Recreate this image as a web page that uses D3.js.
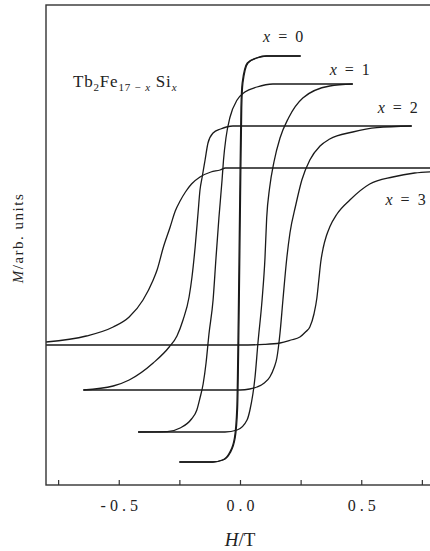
<!DOCTYPE html>
<html lang="en">
<head>
<meta charset="utf-8">
<title>Tb2Fe17-xSix hysteresis loops</title>
<script src="https://cdn.jsdelivr.net/npm/d3@7/dist/d3.min.js"></script>
<style>
    body { margin: 0; background: #fff; }
    svg { display: block; font-family: "Liberation Serif", "DejaVu Serif", serif; }
    .loop { fill: none; stroke: #1a1a1a; stroke-width: 1.3px; }
    .frame { fill: none; stroke: #333; stroke-width: 1.4px; }
    .axis path { display: none; }
    .axis line { stroke: #333; stroke-width: 1.2px; }
    .axis text { font-family: "Liberation Serif", serif; font-size: 16px; letter-spacing: 4px; fill: #222; }
</style>
</head>
<body>
<svg id="chart"></svg>
<script>
    // branches, [H (T), M (arb.)]
    var loop0Up = [[-0.25, -1.02], [-0.111, -1.02], [-0.07, -1.01], [-0.041, -0.975], [-0.02, -0.9],
        [-0.01, -0.75], [-0.004, -0.3], [0.002, 0.3], [0.007, 0.75], [0.012, 0.875], [0.033, 0.975],
        [0.07, 1.0], [0.111, 1.01], [0.25, 1.01]];
    var loop0Down = [[0.25, 1.01], [0.108, 1.01], [0.067, 1.0], [0.03, 0.975], [0.009, 0.875],
        [0.004, 0.75], [-0.001, 0.3], [-0.007, -0.3], [-0.013, -0.75], [-0.023, -0.9], [-0.044, -0.975],
        [-0.073, -1.01], [-0.114, -1.02], [-0.25, -1.02]];

    var loop1Up = [[-0.42, -0.87], [-0.062, -0.87], [-0.012, -0.86], [0.029, -0.81], [0.041, -0.76],
        [0.062, -0.595], [0.074, -0.425], [0.091, -0.21], [0.103, 0], [0.11, 0.2], [0.122, 0.35],
        [0.14, 0.48], [0.165, 0.6], [0.2, 0.7], [0.259, 0.8], [0.37, 0.86], [0.465, 0.87]];
    var loop1Down = [[0.465, 0.87], [0.136, 0.87], [0.07, 0.855], [0.02, 0.83], [-0.012, 0.79],
        [-0.041, 0.705], [-0.058, 0.6], [-0.068, 0.49], [-0.074, 0.39], [-0.087, 0.2], [-0.099, 0],
        [-0.111, -0.21], [-0.128, -0.38], [-0.14, -0.525], [-0.152, -0.63], [-0.165, -0.7],
        [-0.178, -0.76], [-0.2, -0.805], [-0.247, -0.85], [-0.3, -0.868], [-0.42, -0.87]];

    var loop2Up = [[-0.646, -0.66], [0.0, -0.66], [0.04, -0.655], [0.07, -0.645], [0.1, -0.625],
        [0.123, -0.595], [0.14, -0.55], [0.152, -0.5], [0.165, -0.375], [0.177, -0.21], [0.193, 0],
        [0.206, 0.125], [0.23, 0.265], [0.255, 0.39], [0.288, 0.49], [0.33, 0.56], [0.37, 0.595],
        [0.465, 0.63], [0.564, 0.652], [0.708, 0.66]];
    var loop2Down = [[0.708, 0.66], [-0.029, 0.66], [-0.08, 0.645], [-0.111, 0.625], [-0.132, 0.575],
        [-0.144, 0.49], [-0.156, 0.405], [-0.165, 0.34], [-0.173, 0.225], [-0.185, 0.055],
        [-0.198, -0.095], [-0.21, -0.195], [-0.235, -0.31], [-0.26, -0.39], [-0.292, -0.445],
        [-0.358, -0.525], [-0.457, -0.61], [-0.523, -0.64], [-0.646, -0.66]];

    var loop3Up = [[-0.8, -0.435], [0.0, -0.435], [0.1, -0.432], [0.165, -0.425], [0.21, -0.41],
        [0.247, -0.395], [0.27, -0.37], [0.288, -0.345], [0.305, -0.28], [0.317, -0.2], [0.325, -0.11],
        [0.333, -0.02], [0.343, 0.05], [0.356, 0.11], [0.37, 0.155], [0.4, 0.22], [0.453, 0.29],
        [0.535, 0.37], [0.63, 0.405], [0.72, 0.425], [0.8, 0.432]];
    var loop3Down = [[0.8, 0.45], [-0.06, 0.45], [-0.082, 0.44], [-0.12, 0.43], [-0.165, 0.405],
        [-0.2, 0.37], [-0.225, 0.33], [-0.247, 0.285], [-0.267, 0.235], [-0.288, 0.155], [-0.317, 0.05],
        [-0.342, -0.06], [-0.358, -0.11], [-0.4, -0.21], [-0.457, -0.295], [-0.523, -0.345],
        [-0.634, -0.39], [-0.8, -0.42]];

    var loopNames = ["0", "1", "2", "3"];
    // where each "x = n" label starts, in data units
    var labelPos = [[0.095, 1.08], [0.37, 0.915], [0.568, 0.725], [0.6, 0.265]];

    var xTicks = [-0.75, -0.5, -0.25, 0, 0.25, 0.5, 0.75];
    var xLabelled = [-0.5, 0, 0.5];

    var width = 430, height = 551;
    var margin = {top: 5, left: 46, bottom: 66};
    var plotW = 388, plotH = height - margin.top - margin.bottom;

    var x = d3.scaleLinear().domain([-0.8, 0.8]).range([margin.left, margin.left + plotW]);
    var y = d3.scaleLinear().domain([-1.135, 1.265]).range([margin.top + plotH, margin.top]);

    var svg = d3.select("#chart").attr("width", width).attr("height", height);

    svg.append("clipPath").attr("id", "plotClip")
        .append("rect")
        .attr("x", margin.left).attr("y", margin.top)
        .attr("width", plotW).attr("height", plotH);

    var line = d3.line()
        .x(function (d) { return x(d[0]); })
        .y(function (d) { return y(d[1]); })
        .curve(d3.curveMonotoneX);

    var branches = [loop0Up, loop0Down, loop1Up, loop1Down, loop2Up, loop2Down, loop3Up, loop3Down];

    svg.append("g")
        .attr("clip-path", "url(#plotClip)")
        .selectAll("path")
        .data(branches)
        .enter().append("path")
        .attr("class", "loop")
        .attr("d", function (d) {
            // monotone curve wants H ascending
            return line(d.slice().sort(function (a, b) { return a[0] - b[0]; }));
        });

    // frame
    svg.append("rect")
        .attr("class", "frame")
        .attr("x", margin.left).attr("y", margin.top)
        .attr("width", plotW).attr("height", plotH);

    svg.append("g")
        .attr("class", "axis")
        .attr("transform", "translate(0," + (margin.top + plotH) + ")")
        .call(d3.axisBottom(x)
            .tickValues(xTicks)
            .tickSizeInner(-5)
            .tickSizeOuter(0)
            .tickPadding(15)
            .tickFormat(function (d) {
                return xLabelled.indexOf(d) >= 0 ? d3.format(".1f")(d).replace("−", "-") : "";
            }))
        .selectAll("text")
        .attr("dx", "2px");

    // x = n labels
    var lab = svg.append("g")
        .selectAll("text")
        .data(loopNames)
        .enter().append("text")
        .attr("x", function (d, i) { return x(labelPos[i][0]); })
        .attr("y", function (d, i) { return y(labelPos[i][1]); })
        .style("font-size", "16px")
        .style("word-spacing", "4px")
        .style("fill", "#222");
    lab.append("tspan").style("font-style", "italic").text("x");
    lab.append("tspan").text(function (d) { return " = " + d; });

    // compound formula
    var formula = svg.append("text")
        .attr("x", 73).attr("y", 87)
        .style("font-size", "17px")
        .style("letter-spacing", "0.8px")
        .style("fill", "#222");
    formula.append("tspan").text("Tb");
    formula.append("tspan").attr("dy", 4).style("font-size", "11px").text("2");
    formula.append("tspan").attr("dy", -4).text("Fe");
    formula.append("tspan").attr("dy", 4).style("font-size", "11px").text("17 − ");
    formula.append("tspan").style("font-size", "11px").style("font-style", "italic").text("x");
    formula.append("tspan").attr("dy", -4).text(" Si");
    formula.append("tspan").attr("dy", 4).style("font-size", "11px").style("font-style", "italic").text("x");

    // axis titles
    var xt = svg.append("text")
        .attr("x", x(0)).attr("y", 546)
        .attr("text-anchor", "middle")
        .style("font-size", "19px")
        .style("fill", "#222");
    xt.append("tspan").style("font-style", "italic").text("H");
    xt.append("tspan").text("/T");

    var yt = svg.append("text")
        .attr("transform", "translate(23,238) rotate(-90)")
        .attr("text-anchor", "middle")
        .style("font-size", "15px")
        .style("letter-spacing", "1.5px")
        .style("fill", "#222");
    yt.append("tspan").style("font-style", "italic").text("M");
    yt.append("tspan").text("/arb. units");
</script>
</body>
</html>
